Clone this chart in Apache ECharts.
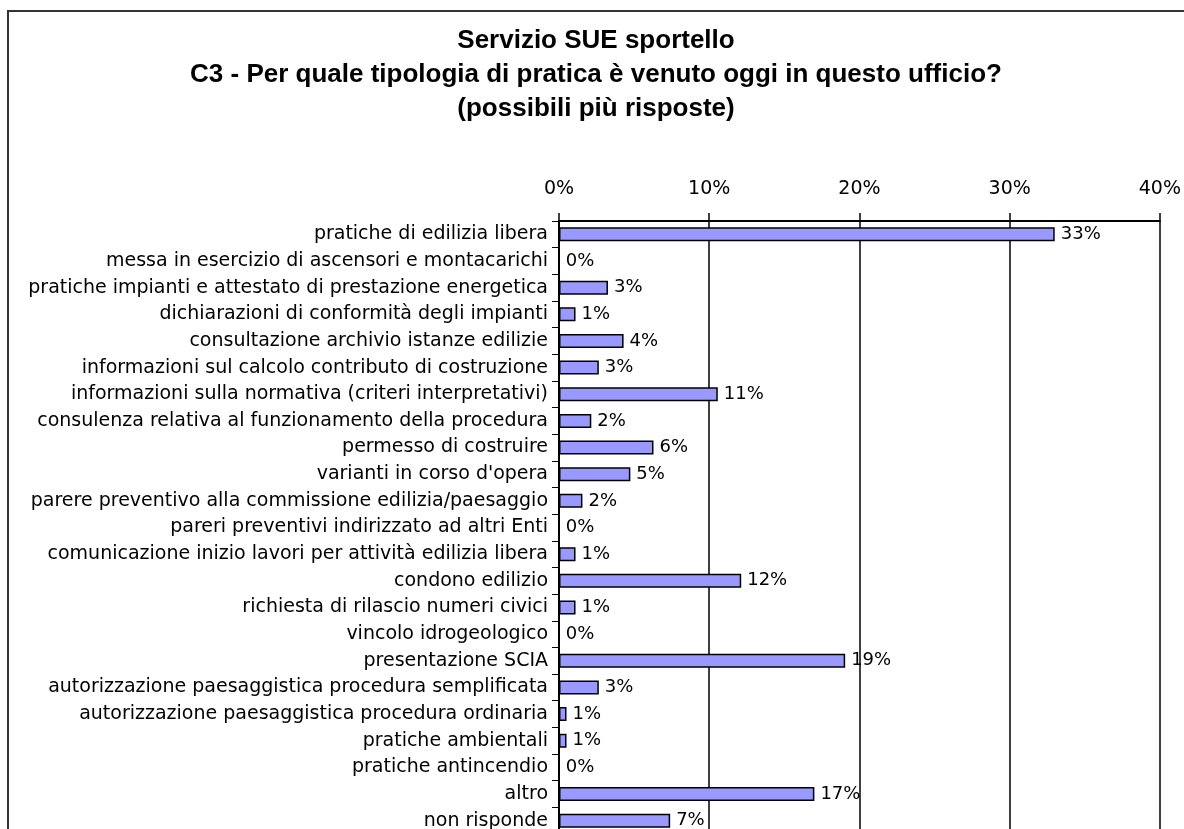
<!DOCTYPE html>
<html lang="it">
<head>
    <meta charset="UTF-8">
    <title>Servizio SUE sportello - C3</title>
    <script src="https://cdn.jsdelivr.net/npm/echarts@6/dist/echarts.min.js"></script>
    <style>
        html, body {
            margin: 0;
            padding: 0;
            background-color: #ffffff;
            overflow: hidden;
        }
        #chart {
            width: 1184px;
            height: 840px;
        }
    </style>
</head>
<body>
<div id="chart"></div>

<script>
    // tipologie di pratica (dall'alto verso il basso)
    const categories = [
        'pratiche di edilizia libera',
        'messa in esercizio di ascensori e montacarichi',
        'pratiche impianti e attestato di prestazione energetica',
        'dichiarazioni di conformità degli impianti',
        'consultazione archivio istanze edilizie',
        'informazioni sul calcolo contributo di costruzione',
        'informazioni sulla normativa (criteri interpretativi)',
        'consulenza relativa al funzionamento della procedura',
        'permesso di costruire',
        "varianti in corso d'opera",
        'parere preventivo alla commissione edilizia/paesaggio',
        'pareri preventivi indirizzato ad altri Enti',
        'comunicazione inizio lavori per attività edilizia libera',
        'condono edilizio',
        'richiesta di rilascio numeri civici',
        'vincolo idrogeologico',
        'presentazione SCIA',
        'autorizzazione paesaggistica procedura semplificata',
        'autorizzazione paesaggistica procedura ordinaria',
        'pratiche ambientali',
        'pratiche antincendio',
        'altro',
        'non risponde'
    ];

    // percentuali
    const percentages = [
        33.0, 0, 3.26, 1.1, 4.3, 2.65, 10.57, 2.15, 6.29, 4.75, 1.56, 0,
        1.1, 12.13, 1.1, 0, 19.05, 2.65, 0.5, 0.5, 0, 17.0, 7.4
    ];

    // tacche dell'asse
    const axisMin = 0;
    const axisMax = 40;
    const axisStep = 10;

    const titleLines = [
        'Servizio SUE sportello',
        'C3 - Per quale tipologia di pratica è venuto oggi in questo ufficio?',
        '(possibili più risposte)'
    ];

    const chart = echarts.init(document.getElementById('chart'));

    const option = {
        animation: false,
        backgroundColor: '#ffffff',
        title: {
            text: titleLines.join('\n'),
            left: 591,
            top: 19,
            textAlign: 'center',
            textStyle: {
                fontFamily: 'Liberation Sans',
                fontSize: 26,
                fontWeight: 'bold',
                color: '#000',
                lineHeight: 34
            }
        },
        graphic: [
            {
                type: 'rect',
                shape: { x: 8, y: 11, width: 1400, height: 1000 },
                style: { fill: 'none', stroke: '#333', lineWidth: 2 },
                silent: true,
                z: -1
            }
        ],
        grid: {
            left: 559,
            right: 24,
            top: 221,
            bottom: 6,
            containLabel: false
        },
        xAxis: {
            type: 'value',
            position: 'top',
            min: axisMin,
            max: axisMax,
            interval: axisStep,
            axisLine: {
                show: true,
                lineStyle: { color: '#000', width: 2 }
            },
            axisTick: {
                show: true,
                inside: false,
                length: 8,
                lineStyle: { color: '#000', width: 1.5 }
            },
            axisLabel: {
                formatter: '{value}%',
                margin: 22,
                fontFamily: 'DejaVu Sans',
                fontSize: 19,
                color: '#000'
            },
            splitLine: {
                show: true,
                lineStyle: { color: '#000', width: 1.5 }
            }
        },
        yAxis: {
            type: 'category',
            inverse: true,
            data: categories,
            axisLine: {
                show: true,
                lineStyle: { color: '#000', width: 2 }
            },
            axisTick: {
                show: true,
                length: 7,
                lineStyle: { color: '#000', width: 1 }
            },
            axisLabel: {
                margin: 11,
                interval: 0,
                fontFamily: 'DejaVu Sans',
                fontSize: 19,
                color: '#000'
            }
        },
        series: [
            {
                type: 'bar',
                data: percentages,
                barWidth: 14,
                itemStyle: {
                    color: '#9999ff',
                    borderColor: '#000',
                    borderWidth: 1.5
                },
                label: {
                    show: true,
                    position: 'right',
                    distance: 6,
                    formatter: p => Math.round(p.value) + '%',
                    fontFamily: 'DejaVu Sans',
                    fontSize: 18,
                    color: '#000'
                }
            }
        ]
    };

    chart.setOption(option);
</script>
</body>
</html>
